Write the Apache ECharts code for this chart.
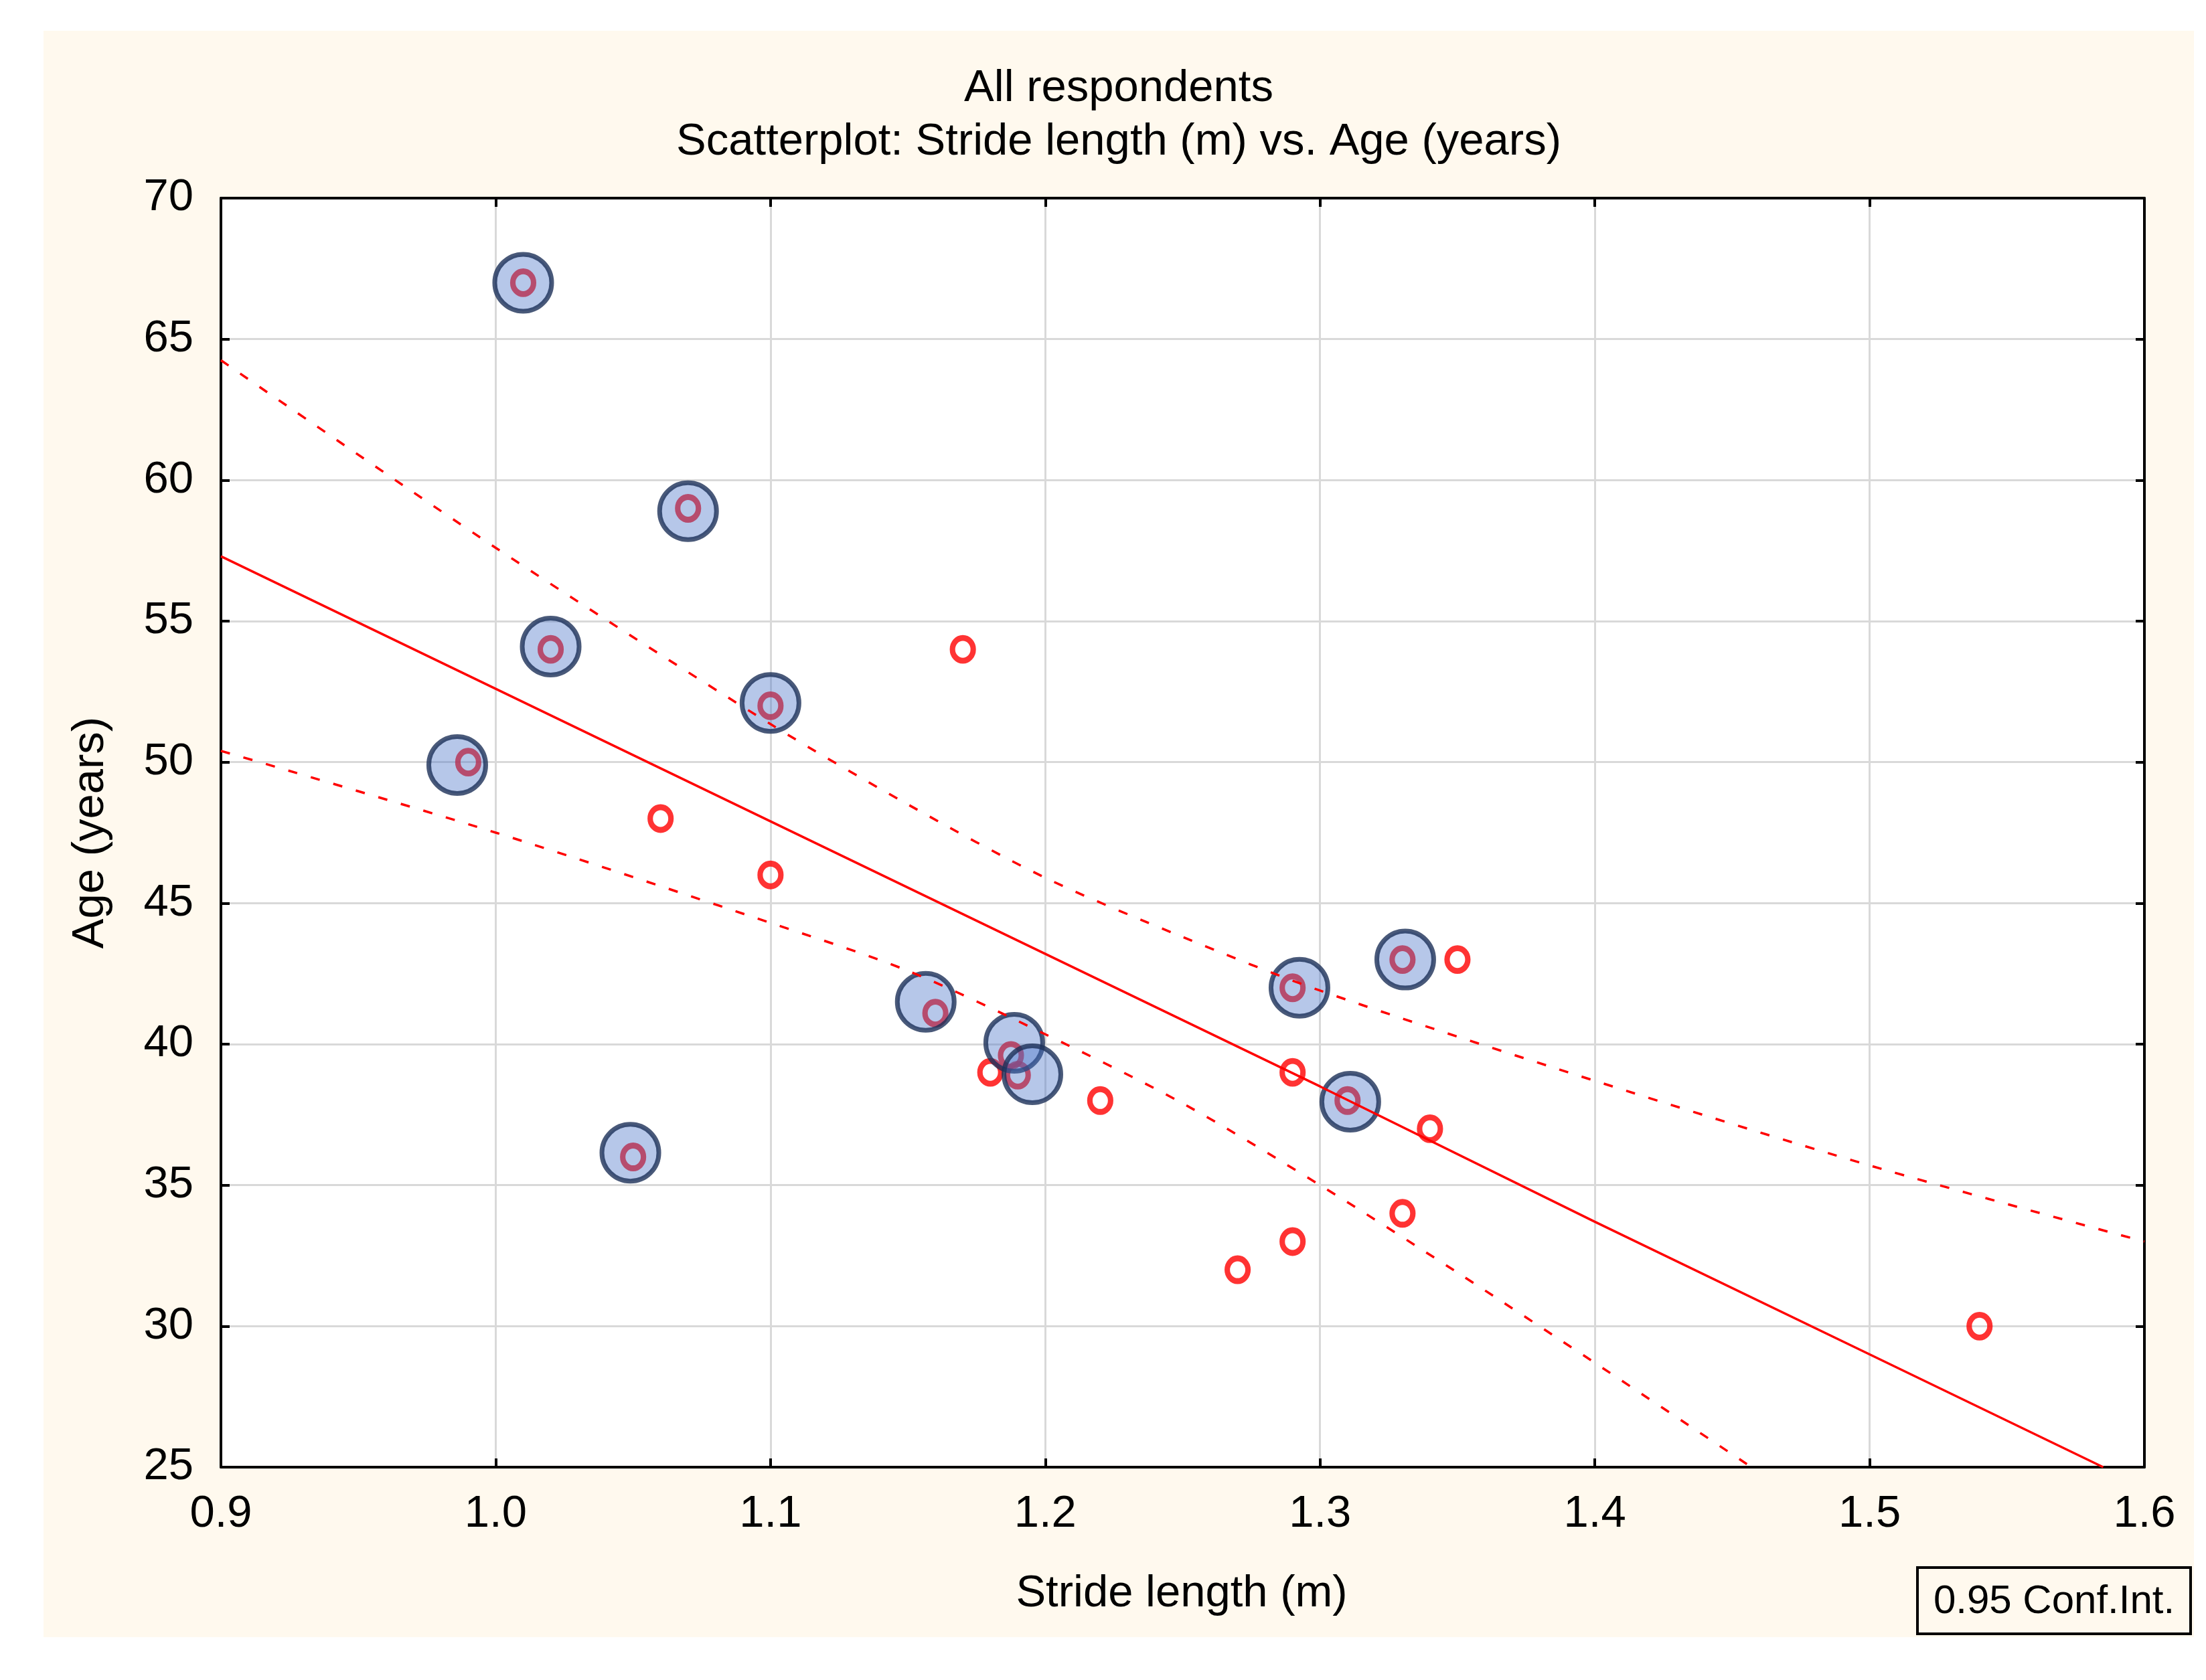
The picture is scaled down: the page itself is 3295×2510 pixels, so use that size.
<!DOCTYPE html>
<html>
<head>
<meta charset="utf-8">
<script src="https://cdn.jsdelivr.net/npm/echarts@6/dist/echarts.min.js"></script>
<style>
html,body{margin:0;padding:0;background:#ffffff;}
#chart{width:3295px;height:2510px;}
</style>
</head>
<body>
<div id="chart"></div>
<script>
// ---- Data ----
var titleLine1 = 'All respondents';
var titleLine2 = 'Scatterplot: Stride length (m) vs. Age (years)';
var xAxisTitle = 'Stride length (m)';
var yAxisTitle = 'Age (years)';
var legendText = '0.95 Conf.Int.';

// all respondents (small red circles)
var redX = [1.01, 1.07, 1.02, 1.17, 1.10, 0.99, 1.06, 1.10, 1.35, 1.33, 1.29, 1.16, 1.1875, 1.18, 1.19, 1.29, 1.22, 1.31, 1.34, 1.05, 1.33, 1.29, 1.27, 1.54];
var redY = [67, 59, 54, 54, 52, 50, 48, 46, 43, 43, 42, 41.1, 39.6, 39, 38.9, 39, 38, 38, 37, 36, 34, 33, 32, 30];

// highlighted subgroup (large blue circles)
var blueX = [1.01, 1.07, 1.02, 1.10, 0.986, 1.331, 1.2925, 1.1565, 1.1887, 1.1953, 1.311, 1.049];
var blueY = [67, 58.9, 54.1, 52.1, 49.9, 43.0, 42.0, 41.5, 40.05, 38.93, 37.96, 36.15];

// regression line
var regX = [0.9, 1.0, 1.1, 1.2, 1.3, 1.4, 1.5, 1.585];
var regY = [57.3, 52.6, 47.9, 43.2, 38.5, 33.7, 29.0, 25.0];

// 0.95 confidence band
var upX = [0.9, 1.0, 1.1, 1.15, 1.2, 1.25, 1.3, 1.4, 1.5, 1.6];
var upY = [64.25, 57.6, 51.35, 48.5, 45.9, 43.8, 41.9, 38.7, 35.7, 33.0];
var loX = [0.9, 1.0, 1.1, 1.15, 1.2, 1.25, 1.3, 1.35, 1.4, 1.457];
var loY = [50.4, 47.5, 44.3, 42.6, 40.35, 37.9, 35.0, 31.9, 28.7, 25.0];

// axis ticks
var xMin = 0.9, xMax = 1.6, xStep = 0.1;
var yMin = 25, yMax = 70, yStep = 5;

function zip(a, b) { return a.map(function (v, i) { return [v, b[i]]; }); }

var FONT = '"Liberation Sans", Arial, sans-serif';
var chart = echarts.init(document.getElementById('chart'), null, { renderer: 'canvas', devicePixelRatio: 1 });

var axisLineStyle = { show: true, lineStyle: { color: '#000000', width: 4 } };
var tickStyle = { show: true, inside: true, length: 13, lineStyle: { color: '#000000', width: 4 } };

var option = {
  animation: false,
  backgroundColor: '#ffffff',
  grid: { left: 330, top: 296, right: 92, bottom: 318, containLabel: false, show: true, backgroundColor: '#ffffff', borderWidth: 0 },
  graphic: [
    { type: 'rect', z: -10, shape: { x: 65, y: 46, width: 3212, height: 2400 }, style: { fill: '#FFF9EE' }, silent: true },
    { type: 'text', z: 10, x: 1671, y: 133, style: { text: titleLine1, font: '67px ' + FONT, fill: '#000', textAlign: 'center', textVerticalAlign: 'middle' } },
    { type: 'text', z: 10, x: 1671, y: 213, style: { text: titleLine2, font: '67px ' + FONT, fill: '#000', textAlign: 'center', textVerticalAlign: 'middle' } },
    { type: 'text', z: 10, x: 1765, y: 2382, style: { text: xAxisTitle, font: '67px ' + FONT, fill: '#000', textAlign: 'center', textVerticalAlign: 'middle' } },
    { type: 'text', z: 10, x: 136, y: 1244, rotation: Math.PI / 2, style: { text: yAxisTitle, font: '67px ' + FONT, fill: '#000', textAlign: 'center', textVerticalAlign: 'middle' } },
    { type: 'rect', z: 10, shape: { x: 2864, y: 2342, width: 408, height: 99 }, style: { fill: 'none', stroke: '#000', lineWidth: 4 } },
    { type: 'text', z: 10, x: 3068, y: 2393, style: { text: legendText, font: '60px ' + FONT, fill: '#000', textAlign: 'center', textVerticalAlign: 'middle' } }
  ],
  xAxis: [
    {
      type: 'value', position: 'bottom', min: xMin, max: xMax, interval: xStep,
      axisLine: axisLineStyle, axisTick: tickStyle,
      axisLabel: { show: true, margin: 37, color: '#000', fontSize: 67, fontFamily: FONT, formatter: function (v) { return (+v).toFixed(1); } },
      splitLine: { show: true, lineStyle: { color: '#D9D9D9', width: 3 } }
    },
    {
      type: 'value', position: 'top', min: xMin, max: xMax, interval: xStep,
      axisLine: axisLineStyle, axisTick: tickStyle, axisLabel: { show: false }, splitLine: { show: false }
    }
  ],
  yAxis: [
    {
      type: 'value', position: 'left', min: yMin, max: yMax, interval: yStep,
      axisLine: axisLineStyle, axisTick: tickStyle,
      axisLabel: { show: true, margin: 41, color: '#000', fontSize: 67, fontFamily: FONT },
      splitLine: { show: true, lineStyle: { color: '#D9D9D9', width: 3 } }
    },
    {
      type: 'value', position: 'right', min: yMin, max: yMax, interval: yStep,
      axisLine: axisLineStyle, axisTick: tickStyle, axisLabel: { show: false }, splitLine: { show: false }
    }
  ],
  series: [
    { type: 'line', name: 'regression', data: zip(regX, regY), showSymbol: false, symbol: 'none', silent: true,
      lineStyle: { color: '#FF0000', width: 3.5, type: 'solid' } },
    { type: 'line', name: 'upper', data: zip(upX, upY), showSymbol: false, symbol: 'none', silent: true, smooth: 0.3,
      lineStyle: { color: '#FF0000', width: 3.5, type: [14, 21] } },
    { type: 'line', name: 'lower', data: zip(loX, loY), showSymbol: false, symbol: 'none', silent: true, smooth: 0.3,
      lineStyle: { color: '#FF0000', width: 3.5, type: [14, 21] } },
    { type: 'scatter', name: 'all', data: zip(redX, redY), symbol: 'circle', symbolSize: [31, 34], silent: true,
      itemStyle: { color: 'rgba(0,0,0,0)', borderColor: '#FF0000', borderWidth: 8.5 } },
    { type: 'scatter', name: 'group', data: zip(blueX, blueY), symbol: 'circle', symbolSize: 85, silent: true,
      itemStyle: { color: 'rgba(73,115,199,0.5)', borderColor: '#1C2F57', borderWidth: 7 } }
  ]
};
chart.setOption(option);
</script>
</body>
</html>
